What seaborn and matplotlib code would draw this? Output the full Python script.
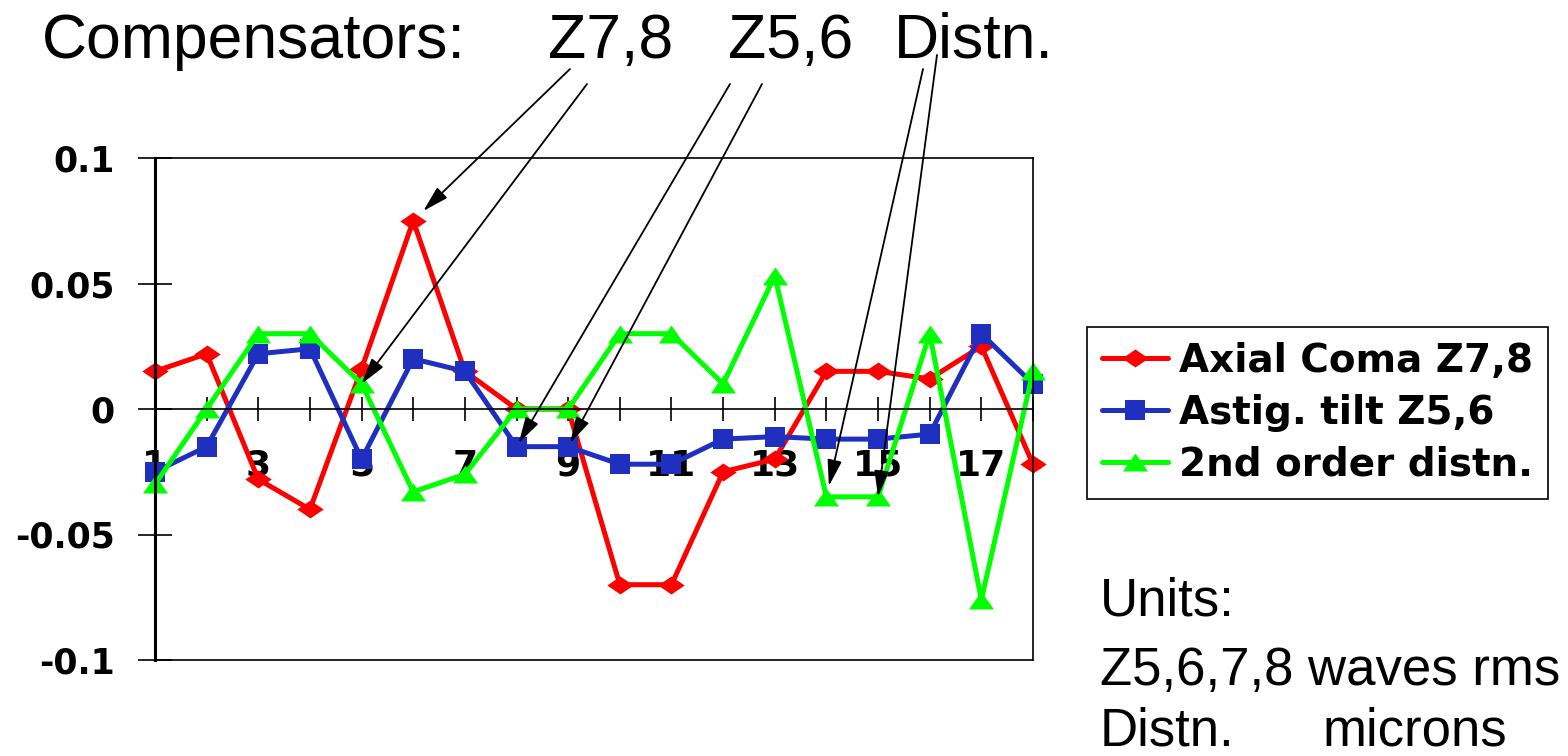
import matplotlib
matplotlib.use("Agg")
import matplotlib.pyplot as plt
import seaborn as sns

# values
points = list(range(1, 19))
axial_coma = [0.015, 0.022, -0.028, -0.040, 0.016, 0.075, 0.015, 0.0, 0.0,
              -0.070, -0.070, -0.025, -0.020, 0.015, 0.015, 0.012, 0.025, -0.022]
astig_tilt = [-0.025, -0.015, 0.022, 0.024, -0.020, 0.020, 0.015, -0.015, -0.015,
              -0.022, -0.022, -0.012, -0.011, -0.012, -0.012, -0.010, 0.030, 0.010]
distortion = [-0.030, 0.0, 0.030, 0.030, 0.010, -0.033, -0.026, 0.0, 0.0,
              0.030, 0.030, 0.010, 0.053, -0.035, -0.035, 0.030, -0.076, 0.015]
series_names = ["Axial Coma Z7,8", "Astig. tilt Z5,6", "2nd order distn."]
y_ticks = [-0.1, -0.05, 0, 0.05, 0.1]
y_tick_labels = ["-0.1", "-0.05", "0", "0.05", "0.1"]

sns.set_style("white")
plt.rcParams['font.family'] = ['Liberation Sans', 'DejaVu Sans']
plt.rcParams['text.color'] = 'black'
plt.rcParams['xtick.color'] = 'black'
plt.rcParams['ytick.color'] = 'black'

W, H = 1568, 756
fig = plt.figure(figsize=(W / 100, H / 100), dpi=100)
ax = fig.add_axes([155 / W, 1 - 660 / H, (1033 - 155) / W, (660 - 158) / H])

diamond = [(-1, 0), (0, 0.68), (1, 0), (0, -0.68), (-1, 0)]
triangle = [(-1, -0.72), (0, 0.72), (1, -0.72), (-1, -0.72)]
styles = [
    (axial_coma, "#ff0000", diamond, 19),
    (astig_tilt, "#1f2fbf", "s", 15),
    (distortion, "#00ff00", triangle, 18),
]

for name, (vals, color, marker, ms) in zip(series_names, styles):
    sns.lineplot(x=points, y=vals, ax=ax, color=color, marker=marker,
                 markersize=ms, markeredgecolor=color, markeredgewidth=0,
                 linewidth=3.6, label=name, legend=False, clip_on=False)

ax.set_xlim(1, 18)
ax.set_ylim(-0.1, 0.1)
ax.set_xticks(points)
ax.set_xticklabels([str(p) if p % 2 else "" for p in points])
ax.set_yticks(y_ticks)
ax.set_yticklabels(y_tick_labels)
ax.xaxis.set_ticks_position("bottom")
ax.yaxis.set_ticks_position("left")

ax.spines["bottom"].set_position(("data", 0))
ax.spines["bottom"].set_linewidth(1.2)
ax.spines["left"].set_linewidth(2.2)
ax.spines["top"].set_linewidth(1.2)
ax.spines["right"].set_linewidth(1.2)
for s in ax.spines.values():
    s.set_color("black")
ax.plot([0, 1], [0, 0], transform=ax.transAxes, color="black", lw=1.2, clip_on=False)

ax.tick_params(axis="x", direction="inout", length=17, width=1.2, pad=20,
               labelsize=26)
ax.tick_params(axis="y", direction="inout", length=24, width=1.2, pad=17,
               labelsize=25)
for lab in ax.get_xticklabels() + ax.get_yticklabels():
    lab.set_fontweight("bold")
    lab.set_fontfamily("DejaVu Sans")
ax.set_xlabel("")
ax.set_ylabel("")

# legend box at right
handles, labels = ax.get_legend_handles_labels()
leg = fig.legend(handles, labels, loc="upper left",
                 bbox_to_anchor=(1087 / W, 1 - 327 / H), borderaxespad=0,
                 frameon=True, fancybox=False, edgecolor="black", framealpha=1,
                 prop={"family": "DejaVu Sans", "weight": "bold", "size": 28},
                 handlelength=1.7, labelspacing=0.36, borderpad=0.38,
                 handletextpad=0.28)
leg.get_frame().set_linewidth(1.2)

# heading texts
fig.text(42 / W, 1 - 58 / H, "Compensators:", fontsize=45, va="baseline")
fig.text(548 / W, 1 - 58 / H, "Z7,8", fontsize=45, va="baseline")
fig.text(728 / W, 1 - 58 / H, "Z5,6", fontsize=45, va="baseline")
fig.text(894 / W, 1 - 58 / H, "Distn.", fontsize=45, va="baseline")

# units note
fig.text(1100 / W, 1 - 615 / H, "Units:", fontsize=38, va="baseline")
fig.text(1100 / W, 1 - 685 / H, "Z5,6,7,8 waves rms", fontsize=38, va="baseline")
fig.text(1100 / W, 1 - 745 / H, "Distn.", fontsize=38, va="baseline")
fig.text(1323 / W, 1 - 745 / H, "microns", fontsize=38, va="baseline")

# arrows from heading to the points they refer to
arrows = [
    ((570, 69), 6, axial_coma, 10),
    ((587, 84), 5, distortion, 0),
    ((730, 84), 8, astig_tilt, 3),
    ((762, 84), 9, astig_tilt, 3),
    ((923, 69), 14, distortion, 8),
    ((937, 55), 15, distortion, 0),
]
for (tx, ty), p, vals, shrink in arrows:
    ax.annotate("", xy=(p, vals[p - 1]), xycoords="data",
                xytext=(tx / W, 1 - ty / H), textcoords="figure fraction",
                arrowprops=dict(arrowstyle="-|>,head_length=0.8,head_width=0.22",
                                color="black", lw=1.3, shrinkA=0, shrinkB=shrink,
                                mutation_scale=20),
                annotation_clip=False, zorder=10)

fig.savefig("out.png", dpi=100)
